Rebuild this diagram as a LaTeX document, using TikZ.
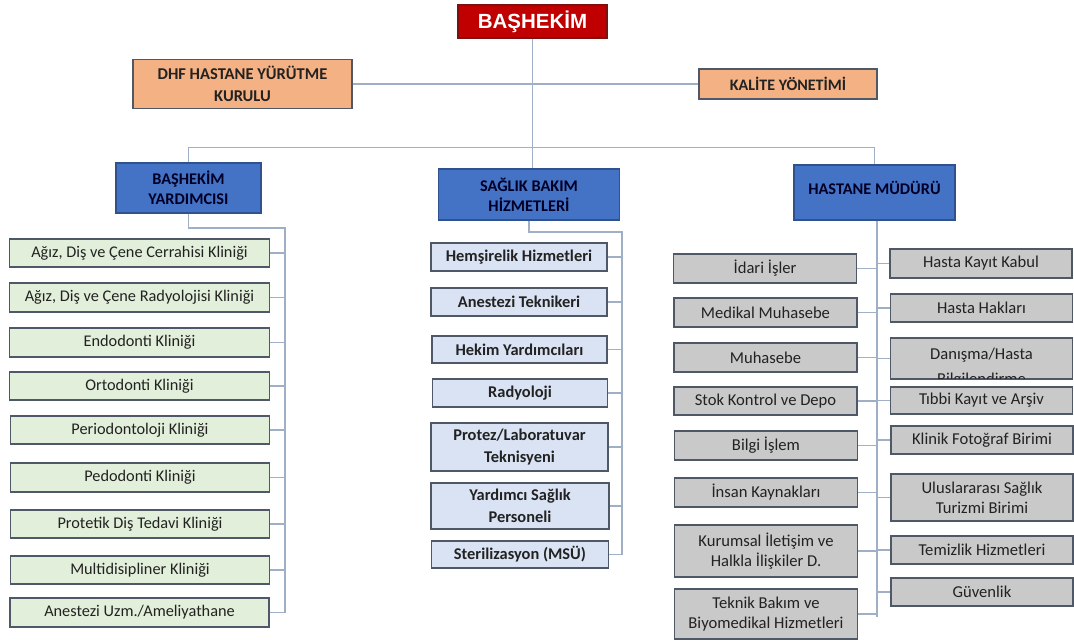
\documentclass[tikz,border=0pt]{standalone}
\usepackage{fontspec}
\setmainfont{Carlito}
\newfontfamily\arialf{Liberation Sans}
\usetikzlibrary{calc}
\definecolor{redf}{HTML}{C00000}
\definecolor{redb}{HTML}{7F1010}
\definecolor{orangef}{HTML}{F4B183}
\definecolor{bluef}{HTML}{4472C4}
\definecolor{blueb}{HTML}{2F528F}
\definecolor{greenf}{HTML}{E2EFDA}
\definecolor{lavf}{HTML}{DAE3F3}
\definecolor{grayf}{HTML}{C9C9C9}
\definecolor{bordc}{HTML}{4F5866}
\definecolor{connc}{HTML}{9EAFC6}
\definecolor{txtc}{HTML}{222222}
\tikzset{
  box/.style={draw=bordc, line width=1.4pt, inner sep=0pt, align=center, text=txtc},
  topbox/.style={box, fill=redf, draw=redb, text=white, font=\arialf\bfseries\fontsize{20.5}{24}\selectfont},
  orbox/.style={box, fill=orangef, font=\bfseries\fontsize{16.5}{22}\selectfont},
  bluebox/.style={box, fill=bluef, draw=blueb, text=black!85!blue, font=\bfseries\fontsize{16.3}{20}\selectfont},
  grbox/.style={box, fill=greenf, font=\fontsize{16.3}{20}\selectfont},
  lavbox/.style={box, fill=lavf, font=\bfseries\fontsize{16.4}{22}\selectfont},
  gybox/.style={box, fill=grayf, font=\fontsize{16.6}{20}\selectfont},
  conn/.style={draw=connc, line width=1.1pt}
}
\begin{document}
\begin{tikzpicture}[x=1pt,y=-1pt]
\useasboundingbox[fill=white] (0,0) rectangle (1074,642);
% top
\node[topbox, minimum width=149pt, minimum height=33pt] (bh) at (532.5,21.5) {BAŞHEKİM};
\node[orbox, minimum width=219pt, minimum height=49pt] (dhf) at (242.5,84) {DHF HASTANE YÜRÜTME\\KURULU};
\node[orbox, font=\bfseries\fontsize{16}{20}\selectfont, minimum width=178pt, minimum height=30pt] (kal) at (788,84) {KALİTE YÖNETİMİ};
\node[bluebox, minimum width=145pt, minimum height=50pt] (by) at (188.5,188) {BAŞHEKİM\\YARDIMCISI};
\node[bluebox, minimum width=181pt, minimum height=51pt] (sbh) at (529,194.5) {SAĞLIK BAKIM\\HİZMETLERİ};
\node[bluebox, minimum width=161pt, minimum height=55pt] (hm) at (874.5,192.5) {};
\node[font=\bfseries\fontsize{16.3}{20}\selectfont, text=black!85!blue, inner sep=0pt] (hmt) at (874.5,188) {HASTANE MÜDÜRÜ};
\draw[conn] (dhf.east) -- (kal.west);
\draw[conn] (bh.south) -- (bh.south |- sbh.north);
\draw[conn] (by.north) -- ++(0,-15) -| (hm.north);
% left column
\node[grbox, minimum width=260pt, minimum height=28pt] (c1) at (139.5,253) {Ağız, Diş ve Çene Cerrahisi Kliniği};
\node[grbox, minimum width=260pt, minimum height=29pt] (c2) at (139.5,297.5) {Ağız, Diş ve Çene Radyolojisi Kliniği};
\node[grbox, minimum width=260pt, minimum height=29pt] (c3) at (139.5,342.5) {Endodonti Kliniği};
\node[grbox, minimum width=260pt, minimum height=28pt] (c4) at (139.5,386) {Ortodonti Kliniği};
\node[grbox, minimum width=259pt, minimum height=28pt] (c5) at (140,430) {Periodontoloji Kliniği};
\node[grbox, minimum width=259pt, minimum height=29pt] (c6) at (140,477.5) {Pedodonti Kliniği};
\node[grbox, minimum width=259pt, minimum height=28pt] (c7) at (140,524) {Protetik Diş Tedavi Kliniği};
\node[grbox, minimum width=259pt, minimum height=28pt] (c8) at (140,570) {Multidisipliner Kliniği};
\node[grbox, minimum width=259pt, minimum height=29pt] (c9) at (139.5,612.5) {Anestezi Uzm./Ameliyathane};
\coordinate (ltop) at (285,228);
\draw[conn] (by.south) |- (ltop) -- (ltop |- c9.east);
\foreach \i in {1,...,9} {\draw[conn] (c\i.east) -- (c\i.east -| ltop);}
% middle column
\node[lavbox, minimum width=176pt, minimum height=28pt] (m1) at (519,257) {Hemşirelik Hizmetleri};
\node[lavbox, minimum width=176pt, minimum height=28pt] (m2) at (519,302) {Anestezi Teknikeri};
\node[lavbox, minimum width=175pt, minimum height=27pt] (m3) at (519.5,349.5) {Hekim Yardımcıları};
\node[lavbox, minimum width=175pt, minimum height=28pt] (m4) at (520,393) {Radyoloji};
\node[lavbox, minimum width=177pt, minimum height=48pt] (m5) at (519.5,447) {Protez/Laboratuvar\\Teknisyeni};
\node[lavbox, minimum width=178pt, minimum height=46pt] (m6) at (520,506) {Yardımcı Sağlık\\Personeli};
\node[lavbox, minimum width=177pt, minimum height=27pt] (m7) at (520,554.5) {Sterilizasyon (MSÜ)};
\coordinate (mtop) at (622,232);
\draw[conn] (sbh.south) |- (mtop) -- (mtop |- m7.east);
\foreach \i in {1,...,7} {\draw[conn] (m\i.east) -- (m\i.east -| mtop);}
% right column
\node[gybox, minimum width=183pt, minimum height=29pt] (l1) at (765,268.5) {İdari İşler};
\node[gybox, minimum width=183pt, minimum height=29pt] (l2) at (765.5,312.5) {Medikal Muhasebe};
\node[gybox, minimum width=183pt, minimum height=29pt] (l3) at (765.5,357.5) {Muhasebe};
\node[gybox, minimum width=183pt, minimum height=28pt] (l4) at (765.5,401) {Stok Kontrol ve Depo};
\node[gybox, minimum width=183pt, minimum height=29pt] (l5) at (766,445.5) {Bilgi İşlem};
\node[gybox, minimum width=183pt, minimum height=29pt] (l6) at (766,492.5) {İnsan Kaynakları};
\node[gybox, minimum width=183pt, minimum height=52pt] (l7) at (766,551) {Kurumsal İletişim ve\\Halkla İlişkiler D.};
\node[gybox, minimum width=183pt, minimum height=50pt] (l8) at (766,614) {Teknik Bakım ve\\Biyomedikal Hizmetleri};
\node[gybox, minimum width=182pt, minimum height=29pt] (r1) at (981,263.5) {Hasta Kayıt Kabul};
\node[gybox, minimum width=182pt, minimum height=28pt] (r2) at (981.5,308) {Hasta Hakları};
\node[gybox, minimum width=182pt, minimum height=41pt] (r3) at (981.5,358.5) {};
\begin{scope}
\clip ($(r3.north west)+(1,1)$) rectangle ($(r3.south east)+(-1,-1)$);
\node[font=\fontsize{16.6}{20}\selectfont, text=txtc, inner sep=0pt, anchor=base] (r3a) at (981.5,359) {Danışma/Hasta};
\node[font=\fontsize{16.6}{20}\selectfont, text=txtc, inner sep=0pt, anchor=base] (r3b) at (981.5,384) {Bilgilendirme};
\end{scope}
\node[gybox, minimum width=182pt, minimum height=27pt] (r4) at (981.5,400.5) {Tıbbi Kayıt ve Arşiv};
\node[gybox, minimum width=182pt, minimum height=28pt] (r5) at (982,440) {Klinik Fotoğraf Birimi};
\node[gybox, minimum width=182pt, minimum height=47pt] (r6) at (982,497.5) {Uluslararası Sağlık\\Turizmi Birimi};
\node[gybox, minimum width=182pt, minimum height=28pt] (r7) at (982,550) {Temizlik Hizmetleri};
\node[gybox, minimum width=182pt, minimum height=28pt] (r8) at (982,592) {Güvenlik};
\coordinate (rbot) at (877,617);
\draw[conn] (hm.south -| rbot) -- (rbot);
\foreach \i in {1,...,8} {\draw[conn] (l\i.east) -- (l\i.east -| rbot);}
\foreach \i in {1,...,8} {\draw[conn] (r\i.west) -- (r\i.west -| rbot);}
\end{tikzpicture}
\end{document}
